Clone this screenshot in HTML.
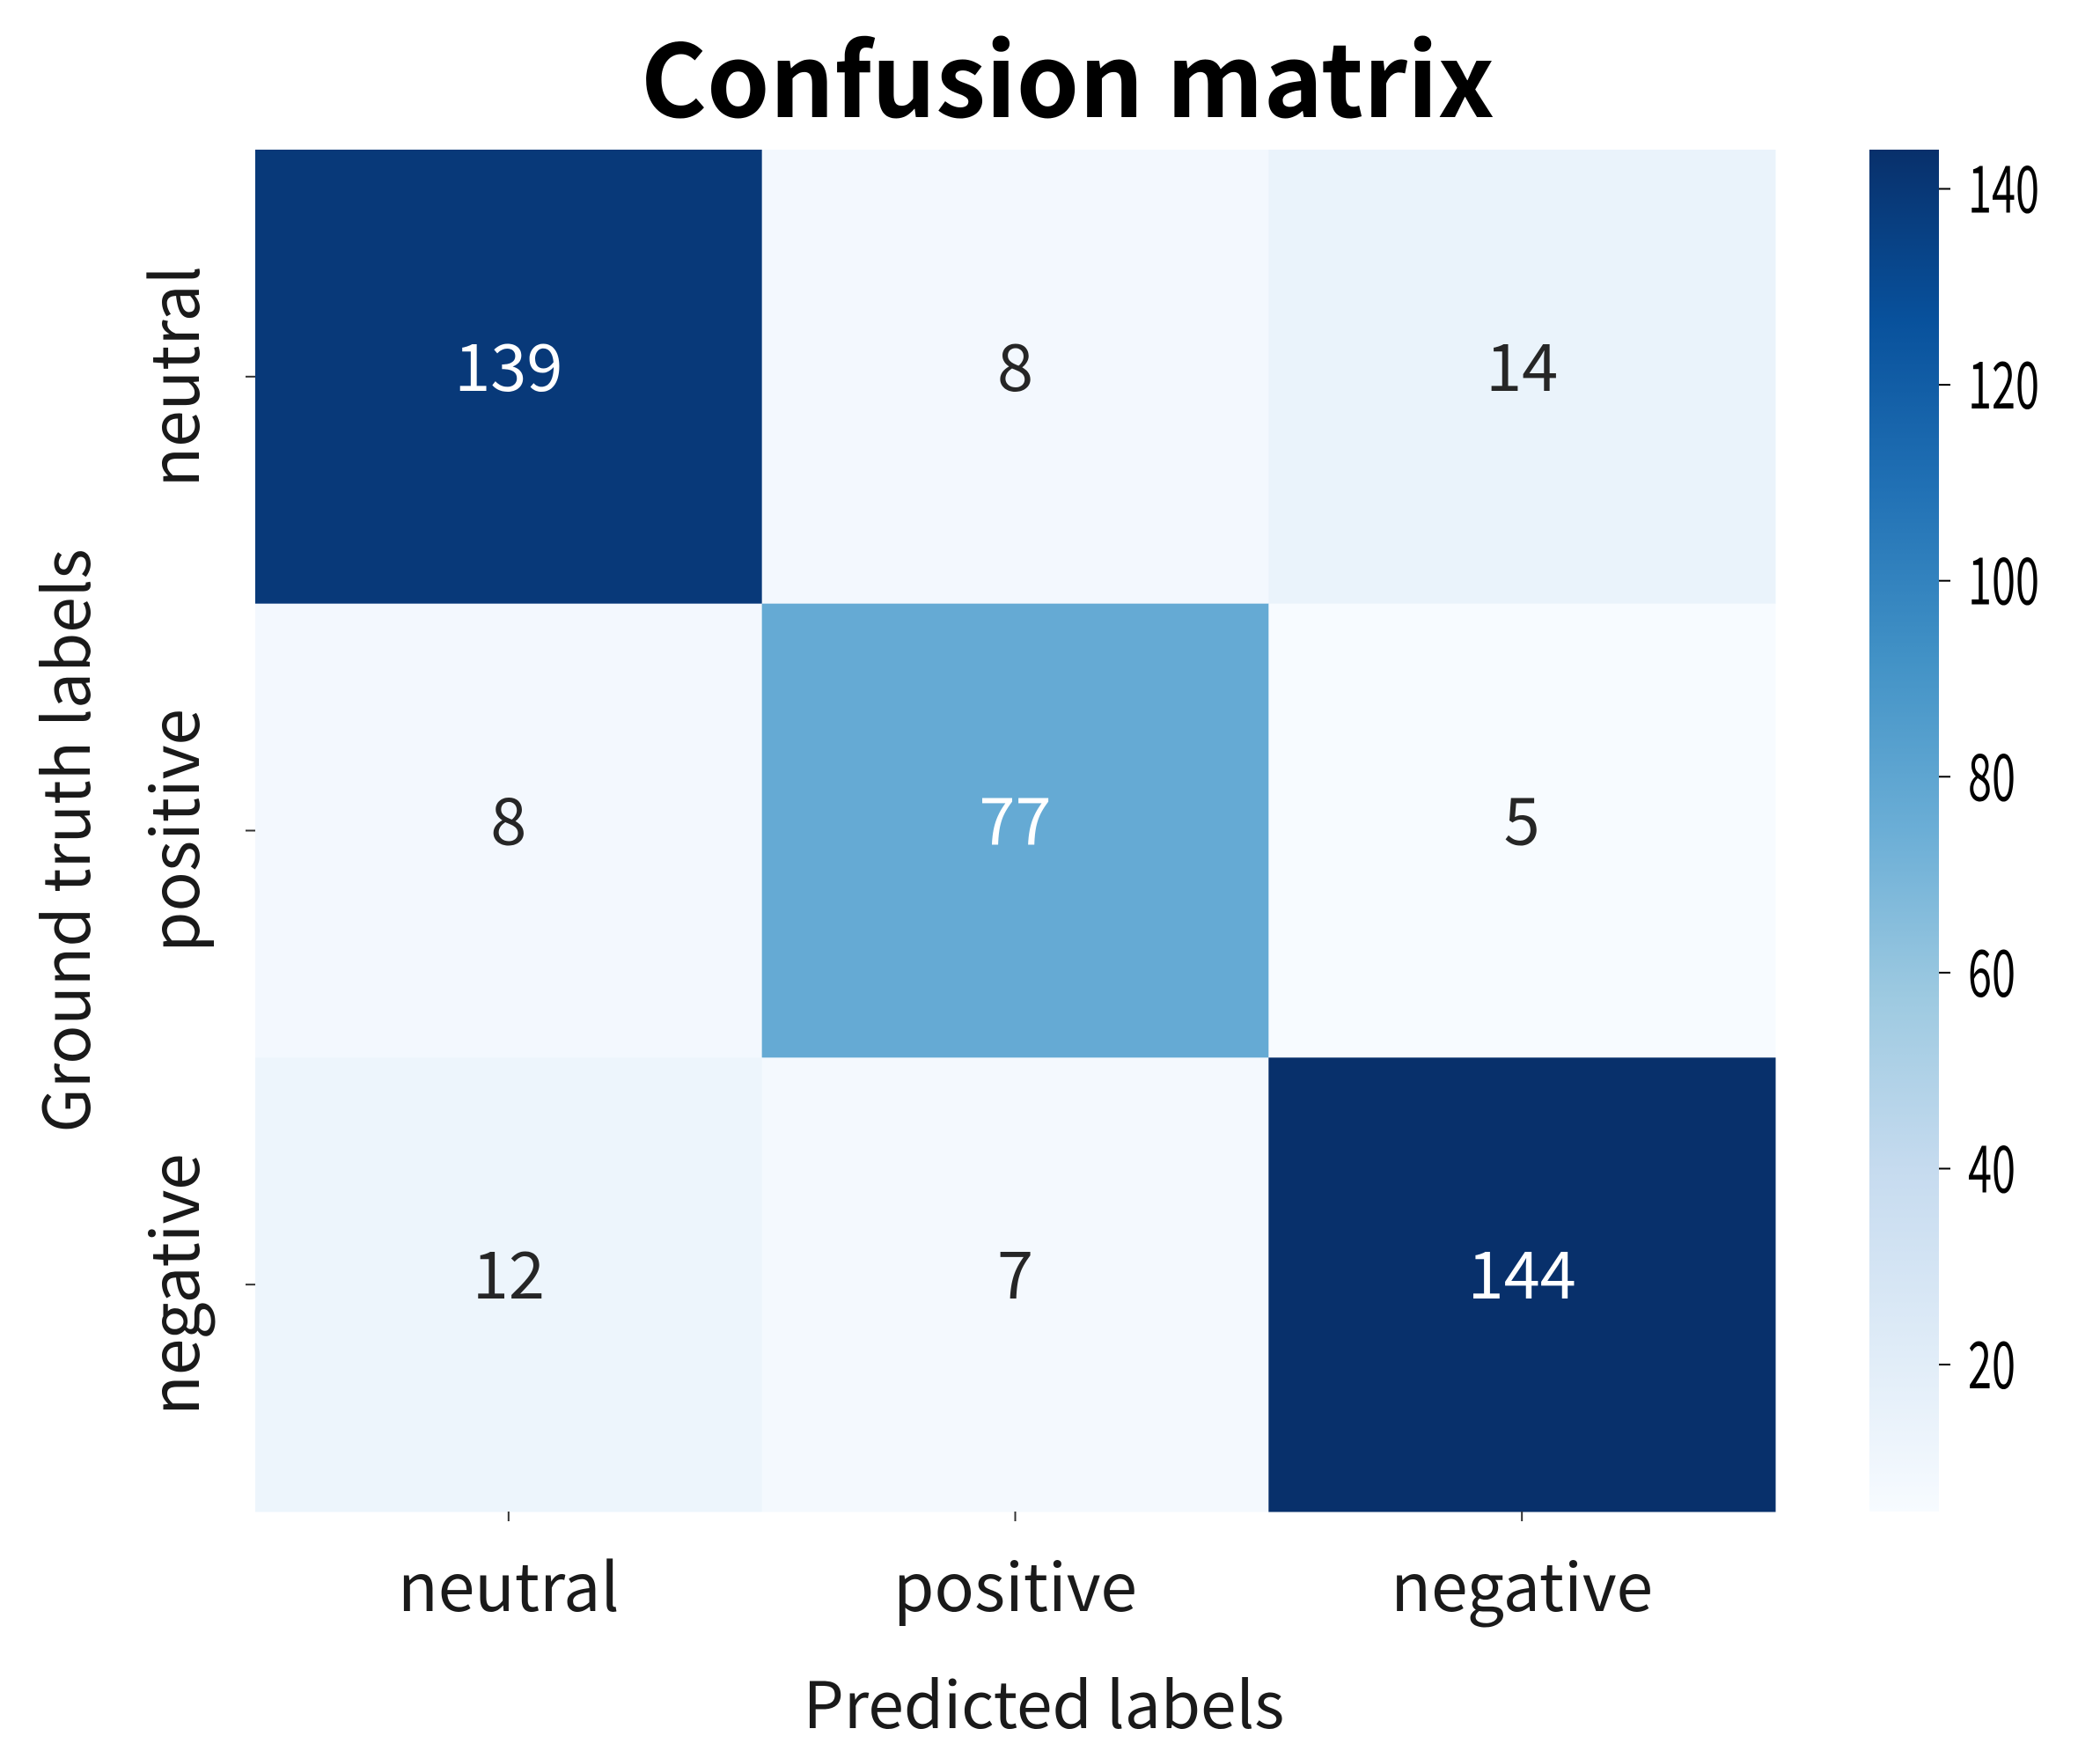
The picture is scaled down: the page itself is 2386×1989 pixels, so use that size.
<!DOCTYPE html>
<html><head><meta charset="utf-8">
<style>
html,body{margin:0;padding:0;background:#fff;}
svg{display:block;}
text{font-family:"Noto Sans CJK JP","Liberation Sans",sans-serif;}
</style></head>
<body>
<svg id="chart" width="2386" height="1989" viewBox="0 0 2386 1989" xmlns="http://www.w3.org/2000/svg">
<rect width="2386" height="1989" fill="#fff"/>
<text x="1213" y="133" font-size="114" font-weight="bold" text-anchor="middle" fill="#000" textLength="970" lengthAdjust="spacingAndGlyphs">Confusion matrix</text>
<text x="1186" y="1963" font-size="73" text-anchor="middle" fill="#1a1a1a">Predicted labels</text>
<text transform="translate(102,955) rotate(-90)" font-size="73" text-anchor="middle" fill="#1a1a1a">Ground truth labels</text>
<g id="cells"></g>
<g id="cbar"></g>
</svg>
<script>
const categories = ["neutral","positive","negative"];
const row0 = [139, 8, 14];
const row1 = [8, 77, 5];
const row2 = [12, 7, 144];
const matrix = [row0, row1, row2];
const cbarTicks = [20, 40, 60, 80, 100, 120, 140];
const vmin = 5, vmax = 144;

const NS = "http://www.w3.org/2000/svg";
const L = 290, T = 170, R = 2017, B = 1717;
const cw = (R - L) / categories.length, ch = (B - T) / categories.length;
const blues = [[247,251,255],[222,235,247],[198,219,239],[158,202,225],[107,174,214],[66,146,198],[33,113,181],[8,81,156],[8,48,107]];
function color(v){
  let t = Math.max(0, Math.min(1, (v - vmin) / (vmax - vmin))) * (blues.length - 1);
  let i = Math.min(Math.floor(t), blues.length - 2), f = t - i;
  const c = blues[i].map((a, k) => Math.round(a + (blues[i+1][k] - a) * f));
  return "rgb(" + c.join(",") + ")";
}
function xPos(j){ return L + j * cw; }
function yPos(i){ return T + i * ch; }
function mk(tag, attrs, parent){
  const e = document.createElementNS(NS, tag);
  for (const k in attrs) e.setAttribute(k, attrs[k]);
  parent.appendChild(e); return e;
}
const svg = document.getElementById("chart");
const cells = document.getElementById("cells");
matrix.forEach((row, i) => {
  row.forEach((v, j) => {
    const r = mk("rect", {x: xPos(j), y: yPos(i), width: cw + 0.5, height: ch + 0.5, fill: color(v)}, cells);
    
    
    const frac = (v - vmin) / (vmax - vmin);
    const t = mk("text", {x: xPos(j) + cw/2, y: yPos(i) + ch/2 + 16, "font-size": 74, "text-anchor": "middle", fill: frac > 0.45 ? "#fff" : "#262626"}, cells);
    
    
    t.textContent = v;
  });
});
categories.forEach((c, k) => {
  const cx = xPos(k) + cw/2;
  const xt = mk("line", {x1: cx, x2: cx, y1: B, y2: B + 11, stroke: "#333", "stroke-width": 2}, svg);
  
  
  const xl = mk("text", {x: cx, y: 1830, "font-size": 75, "text-anchor": "middle", fill: "#1a1a1a"}, svg);
  
  
  xl.textContent = c;
  const cy = yPos(k) + ch/2;
  const yt = mk("line", {x1: L - 11, x2: L, y1: cy, y2: cy, stroke: "#333", "stroke-width": 2}, svg);
  
  
  const yl = mk("text", {transform: "translate(226," + cy + ") rotate(-90)", "font-size": 75, "text-anchor": "middle", fill: "#1a1a1a"}, svg);
  
  
  yl.textContent = c;
});
// colorbar
const cb = document.getElementById("cbar");
const CL = 2124, CR = 2203;
function cbY(v){ return B - (v - vmin) / (vmax - vmin) * (B - T); }
const defs = mk("defs", {}, svg);
const grad = mk("linearGradient", {id: "bg", x1: 0, y1: 1, x2: 0, y2: 0}, defs);
blues.forEach((c, k) => mk("stop", {offset: k/(blues.length-1), "stop-color": "rgb(" + c.join(",") + ")"}, grad));
const bar = mk("rect", {x: CL, y: T, width: CR - CL, height: B - T, fill: "url(#bg)"}, cb);


cbarTicks.forEach(v => {
  const y = cbY(v);
  const tk = mk("line", {x1: CR, x2: CR + 13, y1: y, y2: y, stroke: "#000", "stroke-width": 2}, cb);
  
  
  const n = String(v).length;
  const tl = mk("text", {x: 2236, y: y + 27, "font-size": 74, fill: "#000", textLength: n * 27, lengthAdjust: "spacingAndGlyphs"}, cb);
  
  
  tl.textContent = v;
});
</script>
</body></html>
